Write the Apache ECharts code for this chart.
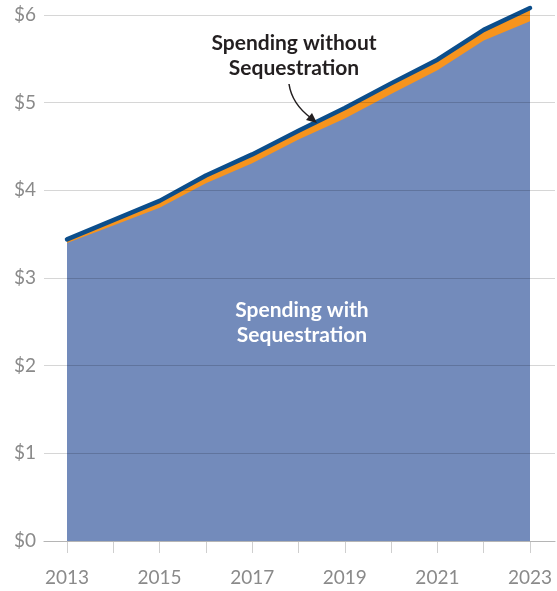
<!DOCTYPE html>
<html>
<head>
<meta charset="utf-8">
<script src="https://cdn.jsdelivr.net/npm/echarts@6/dist/echarts.min.js"></script>
<style>
html,body{margin:0;padding:0;background:#fff;}
#chart{width:557px;height:591px;}
</style>
</head>
<body>
<div id="chart"></div>
<script>
const years = [2013, 2014, 2015, 2016, 2017, 2018, 2019, 2020, 2021, 2022, 2023];
const withoutSequestration = [3.44, 3.66, 3.88, 4.17, 4.41, 4.68, 4.94, 5.22, 5.49, 5.83, 6.08];
const withSequestration    = [3.40, 3.60, 3.80, 4.08, 4.31, 4.58, 4.82, 5.10, 5.37, 5.71, 5.93];
const yTicks = [0, 1, 2, 3, 4, 5, 6];
const labelWithout = 'Spending without\nSequestration';
const labelWith = 'Spending with\nSequestration';

const pairs = (vals) => years.map((y, i) => [y, vals[i]]);
const FONT = 'Lato, "Open Sans", sans-serif';

const chart = echarts.init(document.getElementById('chart'), null, {renderer: 'canvas'});
chart.setOption({
  animation: false,
  backgroundColor: '#ffffff',
  grid: [
    {left: 67, right: 27, top: 15, bottom: 50},
    {left: 44, right: 2, top: 15, bottom: 50}
  ],
  xAxis: [
    {
      gridIndex: 0, type: 'value', min: years[0], max: years[years.length - 1], interval: 1,
      axisLine: {show: false},
      splitLine: {show: false},
      axisTick: {show: true, length: 12, lineStyle: {color: '#cfcfcf', width: 1}},
      axisLabel: {
        show: true, margin: 27, color: '#8a8a8a', fontSize: 19, fontFamily: FONT,
        formatter: (v) => (v % 2 === 1 ? String(v) : '')
      }
    },
    {
      gridIndex: 1, type: 'value', min: 0, max: 1,
      axisLine: {show: true, onZero: false, lineStyle: {color: '#b5b5b5', width: 1.2}},
      axisTick: {show: false}, axisLabel: {show: false}, splitLine: {show: false}, z: 10
    }
  ],
  yAxis: [
    {
      gridIndex: 0, type: 'value', min: yTicks[0], max: yTicks[yTicks.length - 1], interval: 1,
      axisLine: {show: false}, axisTick: {show: false}, axisLabel: {show: false}, splitLine: {show: false}
    },
    {
      gridIndex: 1, type: 'value', min: yTicks[0], max: yTicks[yTicks.length - 1], interval: 1, z: 10,
      axisLine: {show: false}, axisTick: {show: false},
      axisLabel: {show: true, margin: 8, color: '#8a8a8a', fontSize: 19, fontFamily: FONT, formatter: (v) => '$' + v},
      splitLine: {show: true, lineStyle: {color: 'rgba(0,0,0,0.16)', width: 1.2}}
    }
  ],
  series: [
    {
      name: 'without-area', type: 'line', xAxisIndex: 0, yAxisIndex: 0, data: pairs(withoutSequestration),
      symbol: 'none', clip: false, lineStyle: {width: 0}, areaStyle: {color: '#f7941d', opacity: 1}, z: 2
    },
    {
      name: 'with-area', type: 'line', xAxisIndex: 0, yAxisIndex: 0, data: pairs(withSequestration),
      symbol: 'none', clip: false, lineStyle: {width: 0}, areaStyle: {color: '#738bbb', opacity: 1}, z: 3
    },
    {
      name: 'without-line', type: 'line', xAxisIndex: 0, yAxisIndex: 0, data: pairs(withoutSequestration),
      symbol: 'none', clip: false, lineStyle: {width: 4.5, color: '#0c4e8b', cap: 'round', join: 'round'}, z: 4
    }
  ],
  graphic: [
    {
      type: 'text', x: 294, y: 31, z: 20,
      style: {text: labelWithout, fill: '#231f20', font: 'bold 21px ' + FONT, textAlign: 'center', lineHeight: 25}
    },
    {
      type: 'text', x: 302, y: 298, z: 20,
      style: {text: labelWith, fill: '#ffffff', font: 'bold 21px ' + FONT, textAlign: 'center', lineHeight: 25}
    },
    {
      type: 'bezierCurve', z: 20,
      shape: {x1: 289, y1: 84, cpx1: 292, cpy1: 104, x2: 311, y2: 118},
      style: {stroke: '#231f20', lineWidth: 1.5, fill: null}
    },
    {
      type: 'polygon', z: 20,
      shape: {points: [[317, 123], [306, 120], [312, 113]]},
      style: {fill: '#231f20'}
    }
  ]
});
</script>
</body>
</html>
